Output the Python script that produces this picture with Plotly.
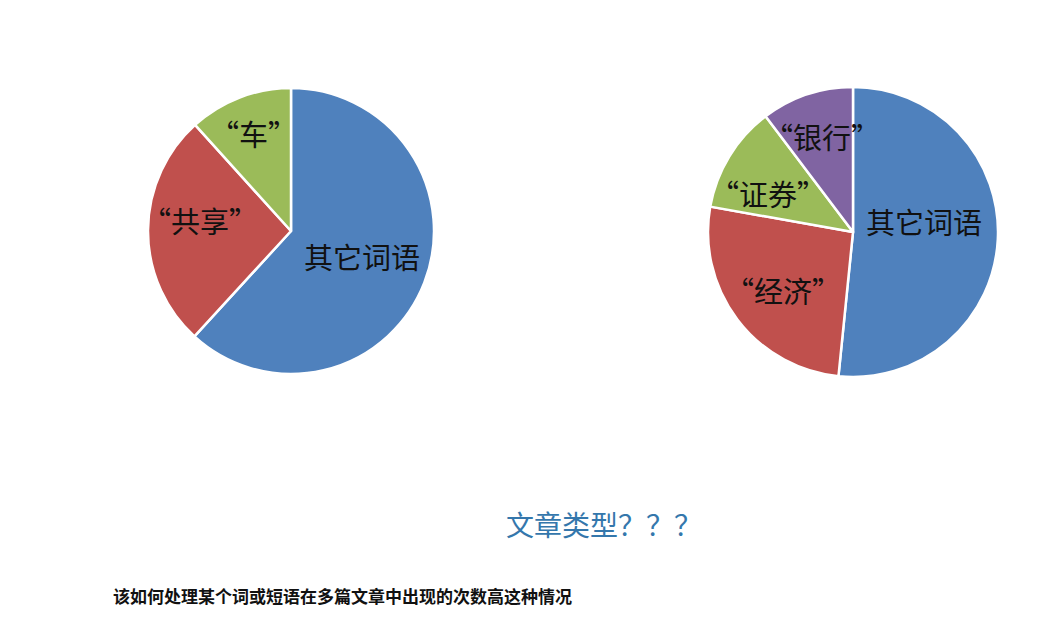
import plotly.graph_objects as go

# the page body keeps an 8px margin, so the figure is drawn 8px in
OFF = 8
W, H = 1056 - 2 * OFF, 619 - 2 * OFF

# left pie: 词频分布 (文章A)
left_labels = ["其它词语", "“共享”", "“车”"]
left_values = [61.8, 26.5, 11.7]

# right pie: 词频分布 (文章B)
right_labels = ["其它词语", "“经济”", "“证券”", "“银行”"]
right_values = [51.6, 26.2, 11.9, 10.3]

colors = ["#4F81BD", "#C0504D", "#9BBB59", "#8064A2"]

title_text = "文章类型？？？"
note_text = "该如何处理某个词或短语在多篇文章中出现的次数高这种情况"

CJK = "Noto Sans CJK SC"


def px_x(x):
    return (x - OFF) / W


def px_y(y):
    return 1 - (y - OFF) / H


fig = go.Figure()

fig.add_trace(go.Pie(
    labels=left_labels, values=left_values,
    sort=False, direction="clockwise", rotation=0,
    marker=dict(colors=colors[:3], line=dict(color="white", width=2.5)),
    textinfo="none", hoverinfo="label+percent",
    domain=dict(x=[px_x(148), px_x(434)], y=[px_y(374), px_y(88)]),
    showlegend=False,
))

fig.add_trace(go.Pie(
    labels=right_labels, values=right_values,
    sort=False, direction="clockwise", rotation=0,
    marker=dict(colors=colors, line=dict(color="white", width=2.5)),
    textinfo="none", hoverinfo="label+percent",
    domain=dict(x=[px_x(708), px_x(998)], y=[px_y(377), px_y(87)]),
    showlegend=False,
))

# slice label placement (pixel centres)
left_pos = [(362, 256), (200, 220), (253, 133)]
right_pos = [(924, 221), (783, 290), (768, 193), (822, 136)]

annotations = []
for lab, (x, y) in list(zip(left_labels, left_pos)) + list(zip(right_labels, right_pos)):
    annotations.append(dict(
        text=lab, x=px_x(x), y=px_y(y), xref="paper", yref="paper",
        showarrow=False, xanchor="center", yanchor="middle",
        font=dict(family=CJK, size=29, color="#111111"),
    ))

annotations.append(dict(
    text=title_text, x=px_x(604), y=px_y(524), xref="paper", yref="paper",
    showarrow=False, xanchor="center", yanchor="middle",
    font=dict(family=CJK, size=28, color="#3477AC"),
))
annotations.append(dict(
    text="<b>" + note_text + "</b>", x=px_x(111), y=px_y(595), xref="paper", yref="paper",
    showarrow=False, xanchor="left", yanchor="middle",
    font=dict(family=CJK, size=17, color="#111111"),
))

fig.update_layout(
    width=W, height=H,
    margin=dict(l=0, r=0, t=0, b=0),
    paper_bgcolor="white", plot_bgcolor="white",
    annotations=annotations,
)

fig.write_html("out.html")
